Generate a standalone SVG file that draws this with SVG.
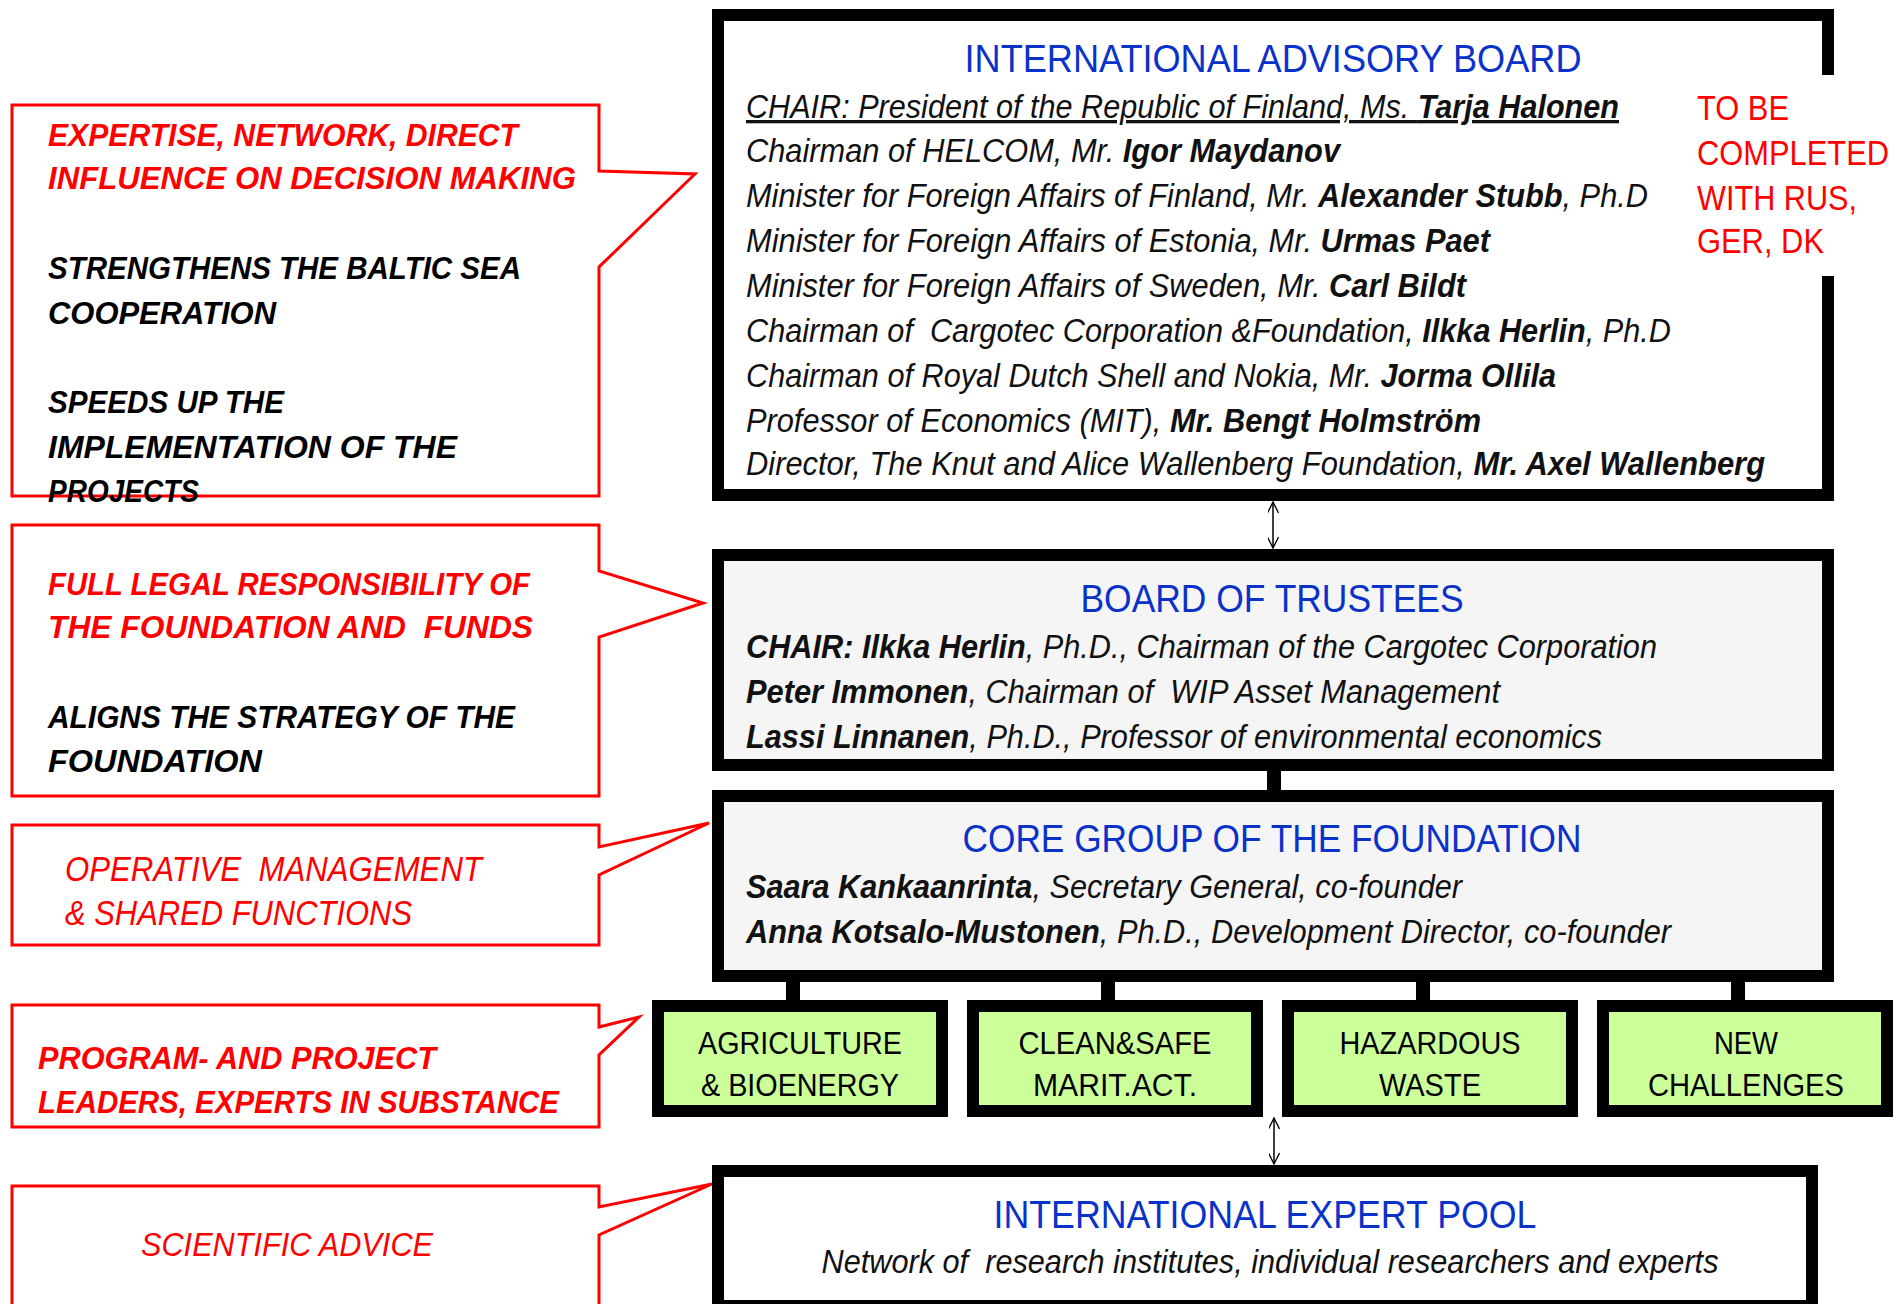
<svg xmlns="http://www.w3.org/2000/svg" width="1901" height="1304" viewBox="0 0 1901 1304">
<style>
text{font-family:"Liberation Sans",Arial,sans-serif}
.co{fill:#fff;stroke:#ff0000;stroke-width:3}
.bi{font-style:italic;font-weight:bold;font-size:31px}
.it{font-style:italic;font-size:34px}
.red{fill:#ff0000}
.blk{fill:#000}
.box{stroke:#000;stroke-width:12}
.ttl{font-size:39px;fill:#0a32c8;text-anchor:middle}
.ln{font-style:italic;font-size:33px;fill:#111}
.b{font-weight:bold}
.gb{fill:#ccff99;stroke:#000;stroke-width:12}
.gt{font-size:32px;fill:#000;text-anchor:middle}
.bar{stroke:#000;stroke-width:14}
.arr{stroke:#000;stroke-width:1.5;fill:none;marker-start:url(#ah);marker-end:url(#ah)}
</style>
<defs>
<marker id="ah" viewBox="0 0 10 10" refX="10" refY="5" markerWidth="18" markerHeight="11" markerUnits="userSpaceOnUse" orient="auto-start-reverse">
<path d="M0,0 L10,5 L0,10" fill="none" stroke="#000" stroke-width="1.2"/>
</marker>
</defs>
<rect width="1901" height="1304" fill="#fff"/>

<g id="connectors">
<line class="bar" x1="1274" y1="771" x2="1274" y2="790"/>
<line class="bar" x1="793" y1="982" x2="793" y2="1000"/>
<line class="bar" x1="1108" y1="982" x2="1108" y2="1000"/>
<line class="bar" x1="1423" y1="982" x2="1423" y2="1000"/>
<line class="bar" x1="1738" y1="982" x2="1738" y2="1000"/>
<line class="arr" x1="1273" y1="502" x2="1273" y2="548"/>
<line class="arr" x1="1274" y1="1118" x2="1274" y2="1164"/>
</g>

<g id="callout-advisory">
<path class="co" d="M12,105 H599 V171 L695,174 L599,267 V496 H12 Z"/>
<text class="bi red" x="48" y="146" textLength="470" lengthAdjust="spacingAndGlyphs">EXPERTISE, NETWORK, DIRECT</text>
<text class="bi red" x="48" y="189" textLength="528" lengthAdjust="spacingAndGlyphs">INFLUENCE ON DECISION MAKING</text>
<text class="bi blk" x="48" y="279" textLength="473" lengthAdjust="spacingAndGlyphs">STRENGTHENS THE BALTIC SEA</text>
<text class="bi blk" x="48" y="324" textLength="228" lengthAdjust="spacingAndGlyphs">COOPERATION</text>
<text class="bi blk" x="48" y="413" textLength="236" lengthAdjust="spacingAndGlyphs">SPEEDS UP THE</text>
<text class="bi blk" x="48" y="458" textLength="409" lengthAdjust="spacingAndGlyphs">IMPLEMENTATION OF THE</text>
<text class="bi blk" x="48" y="502" textLength="151" lengthAdjust="spacingAndGlyphs">PROJECTS</text>
</g>

<g id="callout-trustees">
<path class="co" d="M12,525 H599 V571 L703,603 L599,637 V796 H12 Z"/>
<text class="bi red" x="48" y="595" textLength="482" lengthAdjust="spacingAndGlyphs" style="font-size:32px">FULL LEGAL RESPONSIBILITY OF</text>
<text class="bi red" x="48" y="638" textLength="485" lengthAdjust="spacingAndGlyphs" style="font-size:32px" xml:space="preserve">THE FOUNDATION AND  FUNDS</text>
<text class="bi blk" x="48" y="728" textLength="467" lengthAdjust="spacingAndGlyphs" style="font-size:32px">ALIGNS THE STRATEGY OF THE</text>
<text class="bi blk" x="48" y="772" textLength="214" lengthAdjust="spacingAndGlyphs" style="font-size:32px">FOUNDATION</text>
</g>

<g id="callout-core">
<path class="co" d="M12,825 H599 V847 L709,823 L599,875 V945 H12 Z"/>
<text class="it red" x="65" y="881" textLength="417" lengthAdjust="spacingAndGlyphs" style="font-size:35px" xml:space="preserve">OPERATIVE  MANAGEMENT</text>
<text class="it red" x="65" y="925" textLength="347" lengthAdjust="spacingAndGlyphs" style="font-size:35px">&amp; SHARED FUNCTIONS</text>
</g>

<g id="callout-programs">
<path class="co" d="M12,1005 H599 V1027 L639,1017 L599,1055 V1127 H12 Z"/>
<text class="bi red" x="38" y="1069" textLength="398" lengthAdjust="spacingAndGlyphs">PROGRAM- AND PROJECT</text>
<text class="bi red" x="38" y="1113" textLength="521" lengthAdjust="spacingAndGlyphs">LEADERS, EXPERTS IN SUBSTANCE</text>
</g>

<g id="callout-expert">
<path class="co" d="M12,1186 H599 V1207 L712,1184 L599,1235 V1320 H12 Z"/>
<text class="it red" x="141" y="1256" textLength="292" lengthAdjust="spacingAndGlyphs">SCIENTIFIC ADVICE</text>
</g>

<g id="advisory-board">
<rect x="718" y="15" width="1110" height="480" fill="#fff"/>
<path class="box" fill="none" d="M1828,75 V15 H718 V495 H1828 V276"/>
<text class="ttl" x="1273" y="72" textLength="617" lengthAdjust="spacingAndGlyphs">INTERNATIONAL ADVISORY BOARD</text>
<text class="ln" x="746" y="118" textLength="873" lengthAdjust="spacingAndGlyphs" text-decoration="underline">CHAIR: President of the Republic of Finland, Ms. <tspan class="b">Tarja Halonen</tspan></text>
<text class="ln" x="746" y="162" textLength="594" lengthAdjust="spacingAndGlyphs">Chairman of HELCOM, Mr. <tspan class="b">Igor Maydanov</tspan></text>
<text class="ln" x="746" y="207" textLength="902" lengthAdjust="spacingAndGlyphs">Minister for Foreign Affairs of Finland, Mr. <tspan class="b">Alexander Stubb</tspan>, Ph.D</text>
<text class="ln" x="746" y="252" textLength="744" lengthAdjust="spacingAndGlyphs">Minister for Foreign Affairs of Estonia, Mr. <tspan class="b">Urmas Paet</tspan></text>
<text class="ln" x="746" y="297" textLength="720" lengthAdjust="spacingAndGlyphs">Minister for Foreign Affairs of Sweden, Mr. <tspan class="b">Carl Bildt</tspan></text>
<text class="ln" x="746" y="342" textLength="925" lengthAdjust="spacingAndGlyphs" xml:space="preserve">Chairman of  Cargotec Corporation &amp;Foundation, <tspan class="b">Ilkka Herlin</tspan>, Ph.D</text>
<text class="ln" x="746" y="387" textLength="810" lengthAdjust="spacingAndGlyphs">Chairman of Royal Dutch Shell and Nokia, Mr. <tspan class="b">Jorma Ollila</tspan></text>
<text class="ln" x="746" y="432" textLength="735" lengthAdjust="spacingAndGlyphs">Professor of Economics (MIT), <tspan class="b">Mr. Bengt Holmström</tspan></text>
<text class="ln" x="746" y="475" textLength="1019" lengthAdjust="spacingAndGlyphs">Director, The Knut and Alice Wallenberg Foundation, <tspan class="b">Mr. Axel Wallenberg</tspan></text>
<text class="red" x="1697" y="120" textLength="92" lengthAdjust="spacingAndGlyphs" style="font-size:35px">TO BE</text>
<text class="red" x="1697" y="165" textLength="192" lengthAdjust="spacingAndGlyphs" style="font-size:35px">COMPLETED</text>
<text class="red" x="1697" y="210" textLength="160" lengthAdjust="spacingAndGlyphs" style="font-size:35px">WITH RUS,</text>
<text class="red" x="1697" y="253" textLength="127" lengthAdjust="spacingAndGlyphs" style="font-size:35px">GER, DK</text>
</g>

<g id="board-of-trustees">
<rect class="box" x="718" y="555" width="1110" height="210" fill="#f5f5f5"/>
<text class="ttl" x="1272" y="612" textLength="383" lengthAdjust="spacingAndGlyphs">BOARD OF TRUSTEES</text>
<text class="ln" x="746" y="658" textLength="911" lengthAdjust="spacingAndGlyphs"><tspan class="b">CHAIR: Ilkka Herlin</tspan>, Ph.D., Chairman of the Cargotec Corporation</text>
<text class="ln" x="746" y="703" textLength="754" lengthAdjust="spacingAndGlyphs" xml:space="preserve"><tspan class="b">Peter Immonen</tspan>, Chairman of  WIP Asset Management</text>
<text class="ln" x="746" y="748" textLength="856" lengthAdjust="spacingAndGlyphs"><tspan class="b">Lassi Linnanen</tspan>, Ph.D., Professor of environmental economics</text>
</g>

<g id="core-group">
<rect class="box" x="718" y="796" width="1110" height="180" fill="#f5f5f5"/>
<text class="ttl" x="1272" y="852" textLength="619" lengthAdjust="spacingAndGlyphs">CORE GROUP OF THE FOUNDATION</text>
<text class="ln" x="746" y="898" textLength="716" lengthAdjust="spacingAndGlyphs"><tspan class="b">Saara Kankaanrinta</tspan>, Secretary General, co-founder</text>
<text class="ln" x="746" y="943" textLength="925" lengthAdjust="spacingAndGlyphs"><tspan class="b">Anna Kotsalo-Mustonen</tspan>, Ph.D., Development Director, co-founder</text>
</g>

<g id="agriculture">
<rect class="gb" x="658" y="1006" width="284" height="105"/>
<text class="gt" x="800" y="1054" textLength="204" lengthAdjust="spacingAndGlyphs">AGRICULTURE</text>
<text class="gt" x="800" y="1096" textLength="198" lengthAdjust="spacingAndGlyphs">&amp; BIOENERGY</text>
</g>
<g id="clean-safe">
<rect class="gb" x="973" y="1006" width="284" height="105"/>
<text class="gt" x="1115" y="1054" textLength="193" lengthAdjust="spacingAndGlyphs">CLEAN&amp;SAFE</text>
<text class="gt" x="1115" y="1096" textLength="164" lengthAdjust="spacingAndGlyphs">MARIT.ACT.</text>
</g>
<g id="hazardous-waste">
<rect class="gb" x="1288" y="1006" width="284" height="105"/>
<text class="gt" x="1430" y="1054" textLength="181" lengthAdjust="spacingAndGlyphs">HAZARDOUS</text>
<text class="gt" x="1430" y="1096" textLength="102" lengthAdjust="spacingAndGlyphs">WASTE</text>
</g>
<g id="new-challenges">
<rect class="gb" x="1603" y="1006" width="284" height="105"/>
<text class="gt" x="1746" y="1054" textLength="64" lengthAdjust="spacingAndGlyphs">NEW</text>
<text class="gt" x="1746" y="1096" textLength="196" lengthAdjust="spacingAndGlyphs">CHALLENGES</text>
</g>

<g id="expert-pool">
<rect class="box" x="718" y="1171" width="1094" height="135" fill="#fff"/>
<text class="ttl" x="1265" y="1228" textLength="543" lengthAdjust="spacingAndGlyphs">INTERNATIONAL EXPERT POOL</text>
<text class="ln" x="1270" y="1273" text-anchor="middle" textLength="897" lengthAdjust="spacingAndGlyphs" style="font-size:34px" xml:space="preserve">Network of  research institutes, individual researchers and experts</text>
</g>
</svg>
